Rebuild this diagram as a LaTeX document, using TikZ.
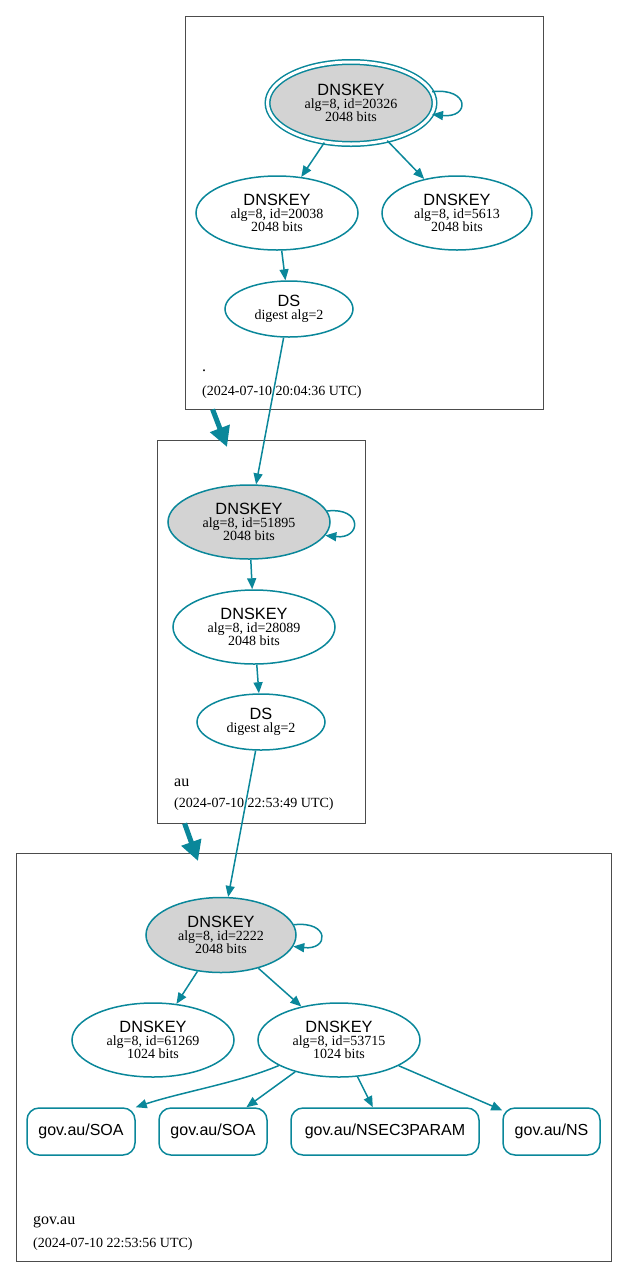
\documentclass[tikz,border=0pt]{standalone}
\usepackage{fontspec}
\setmainfont{Liberation Serif}
\setsansfont{Liberation Sans}
\usetikzlibrary{arrows.meta,shapes.geometric}
\definecolor{dnsteal}{HTML}{0A879A}
\definecolor{keygray}{HTML}{D3D3D3}
\newcommand\rrname[1]{{\fontsize{16.3}{13.5}\sffamily #1}}

\begin{document}
\begin{tikzpicture}[x=1pt,y=-1pt,
  every node/.style={font=\fontsize{14}{13.2}\selectfont},
  keynode/.style={ellipse,draw=dnsteal,line width=1.5pt,inner sep=0pt,align=center,minimum width=162,minimum height=74},
  sepnode/.style={keynode,fill=keygray},
  dsnode/.style={keynode,minimum width=128,minimum height=56},
  rrset/.style={rectangle,rounded corners=12pt,draw=dnsteal,line width=1.5pt,minimum height=47,font=\fontsize{16}{16}\sffamily},
  zone/.style={draw=black!70,line width=0.8pt,inner sep=0pt},
  sig/.style={draw=dnsteal,line width=1.5pt,-{Triangle[length=11pt,width=9pt]}},
  deleg/.style={draw=dnsteal,line width=5pt,-{Triangle[length=20pt,width=20pt]}},
  zlabel/.style={anchor=base west,inner sep=0pt,font=\fontsize{16}{16}\selectfont},
  zdate/.style={anchor=base west,inner sep=0pt}]
\useasboundingbox (0,0) rectangle (628,1278);

\node[zone,minimum width=358,minimum height=393] (rootzone) at (364,212.5) {};
\node[zone,minimum width=208,minimum height=383] (auzone) at (261,631.5) {};
\node[zone,minimum width=595,minimum height=408] (govzone) at (313.5,1057) {};

\node[zlabel] (rootname) at (202,371) {.};
\node[zdate] (rootdate) at (202,395) {(2024-07-10 20:04:36 UTC)};
\node[zlabel] (auname) at (174,786) {au};
\node[zdate] (audate) at (174,807) {(2024-07-10 22:53:49 UTC)};
\node[zlabel] (govname) at (33,1224) {gov.au};
\node[zdate] (govdate) at (33,1247) {(2024-07-10 22:53:56 UTC)};

\node[sepnode,double,double distance=3pt,minimum width=167,minimum height=82] (k20326) at (351,103) {\rrname{DNSKEY}\\alg=8, id=20326\\2048 bits};
\node[keynode] (k20038) at (277,213) {\rrname{DNSKEY}\\alg=8, id=20038\\2048 bits};
\node[keynode,minimum width=150] (k5613) at (457,213) {\rrname{DNSKEY}\\alg=8, id=5613\\2048 bits};
\node[dsnode] (ds1) at (289,309) {\rrname{DS}\\digest alg=2};

\node[sepnode] (k51895) at (249,522) {\rrname{DNSKEY}\\alg=8, id=51895\\2048 bits};
\node[keynode] (k28089) at (254,627) {\rrname{DNSKEY}\\alg=8, id=28089\\2048 bits};
\node[dsnode] (ds2) at (261,722) {\rrname{DS}\\digest alg=2};

\node[sepnode,minimum width=150,minimum height=75] (k2222) at (221,935) {\rrname{DNSKEY}\\alg=8, id=2222\\2048 bits};
\node[keynode] (k61269) at (153,1040) {\rrname{DNSKEY}\\alg=8, id=61269\\1024 bits};
\node[keynode] (k53715) at (339,1040) {\rrname{DNSKEY}\\alg=8, id=53715\\1024 bits};

\node[rrset,minimum width=108] (soa1) at (81,1131.5) {gov.au/SOA};
\node[rrset,minimum width=108] (soa2) at (213,1131.5) {gov.au/SOA};
\node[rrset,minimum width=188] (nsec3p) at (385,1131.5) {gov.au/NSEC3PARAM};
\node[rrset,minimum width=97] (ns) at (551.5,1131.5) {gov.au/NS};

\draw[sig] (k20326.8) .. controls +(38,-4) and +(38,4) .. (k20326.-8);
\draw[sig] (k20326) -- (k20038);
\draw[sig] (k20326) -- (k5613);
\draw[sig] (k20038) -- (ds1);
\draw[sig] (ds1) -- (k51895);

\draw[sig] (k51895.8) .. controls +(36,-4) and +(36,4) .. (k51895.-10);
\draw[sig] (k51895) -- (k28089);
\draw[sig] (k28089) -- (ds2);
\draw[sig] (ds2) -- (k2222);

\draw[sig] (k2222.8) .. controls +(36,-4) and +(36,4) .. (k2222.-9);
\draw[sig] (k2222) -- (k61269);
\draw[sig] (k2222) -- (k53715);
\draw[sig] (k53715.203) .. controls +(-40,17) and +(45,-15) .. (soa1.north east);
\draw[sig] (k53715) -- (soa2);
\draw[sig] (k53715) -- (nsec3p);
\draw[sig] (k53715) -- (ns);

\coordinate (auin) at (227,447);
\coordinate (govin) at (198,861);
\draw[deleg] ([xshift=28]rootzone.south west) -- (auin);
\draw[deleg] ([xshift=28]auzone.south west) -- (govin);

\end{tikzpicture}
\end{document}
